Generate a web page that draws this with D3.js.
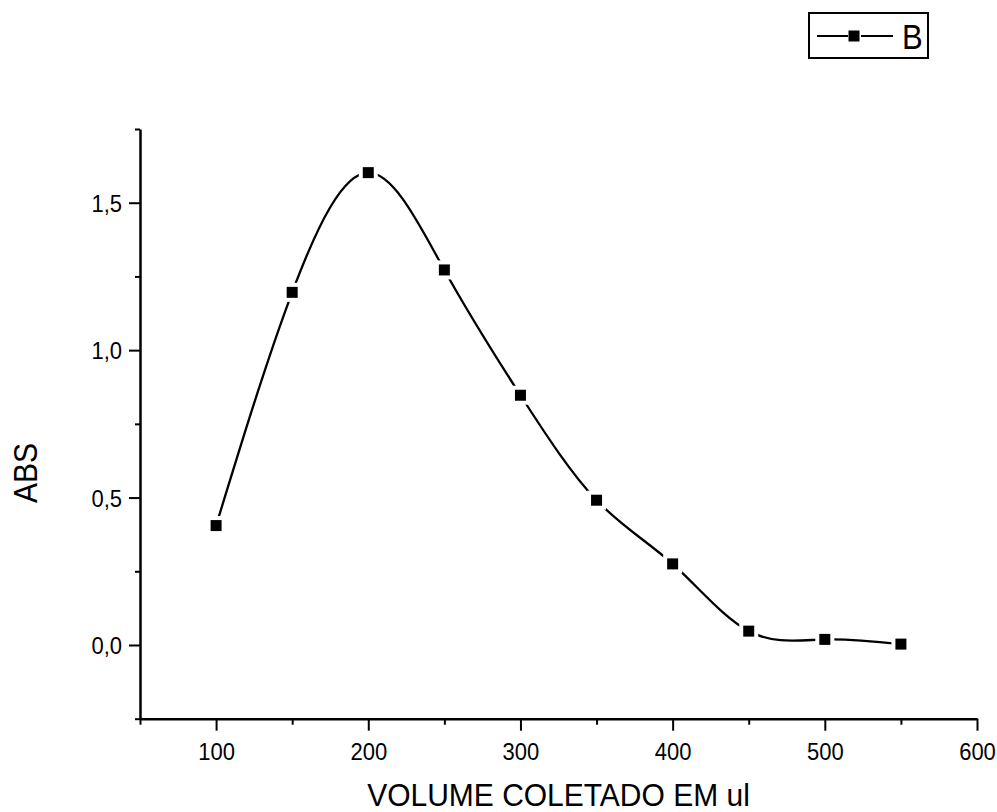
<!DOCTYPE html>
<html>
<head>
<meta charset="utf-8">
<script src="https://cdn.jsdelivr.net/npm/d3@7"></script>
<style>
  html, body { margin: 0; padding: 0; background: #fff; }
  svg { display: block; }
  text { font-family: "Liberation Sans", Arial, sans-serif; fill: #000; }
</style>
</head>
<body>
<svg id="chart" width="997" height="812"></svg>
<script>
// ---- data ----
const volumes = [100, 150, 200, 250, 300, 350, 400, 450, 500, 550];
const absValues = [0.405, 1.196, 1.602, 1.272, 0.847, 0.491, 0.275, 0.047, 0.019, 0.003];
const xMajorTicks = [100, 200, 300, 400, 500, 600];
const xMinorTicks = [50, 150, 250, 350, 450, 550];
const yMajorTicks = [0.0, 0.5, 1.0, 1.5];
const yMinorTicks = [-0.25, 0.25, 0.75, 1.25, 1.75];
const seriesName = "B";
const xTitle = "VOLUME COLETADO EM ul";
const yTitle = "ABS";

const FONT = '"Liberation Sans", Arial, sans-serif';
const svg = d3.select("#chart");
const x = d3.scaleLinear().domain([50, 600]).range([140, 977]);
const y = d3.scaleLinear().domain([-0.25, 1.75]).range([718.7, 129]);
const fmt = d => d3.format(".1f")(d).replace(".", ",");

// minor ticks
svg.append("g").attr("transform", `translate(0,${y(-0.25)})`)
  .call(d3.axisBottom(x).tickValues(xMinorTicks).tickSize(6).tickFormat(""))
  .call(g => g.select(".domain").remove())
  .call(g => g.selectAll("line").attr("stroke-width", 2));
svg.append("g").attr("transform", `translate(${x(50)},0)`)
  .call(d3.axisLeft(y).tickValues(yMinorTicks).tickSize(5).tickFormat(""))
  .call(g => g.select(".domain").remove())
  .call(g => g.selectAll("line").attr("stroke-width", 2));

// major x axis
const gx = svg.append("g").attr("transform", `translate(0,${y(-0.25)})`)
  .call(d3.axisBottom(x).tickValues(xMajorTicks).tickSize(12).tickSizeOuter(0).tickFormat(d3.format("d")));
gx.attr("font-size", null).attr("font-family", null);
gx.select(".domain").attr("stroke-width", 2.5);
gx.selectAll("line").attr("stroke-width", 2);
gx.selectAll("text").attr("y", 0).attr("dy", null)
  .attr("transform", "translate(0,41.5) scale(1,1.1)")
  .style("font-size", "22px").style("font-family", FONT);

// major y axis
const gy = svg.append("g").attr("transform", `translate(${x(50)},0)`)
  .call(d3.axisLeft(y).tickValues(yMajorTicks).tickSize(11).tickSizeOuter(0).tickFormat(fmt));
gy.attr("font-size", null).attr("font-family", null);
gy.select(".domain").attr("stroke-width", 2.5);
gy.selectAll("line").attr("stroke-width", 2);
gy.selectAll("text").attr("x", 0).attr("dy", null)
  .attr("transform", "translate(-18,8.6) scale(1,1.1)")
  .style("font-size", "22px").style("font-family", FONT);

// curve
const pts = volumes.map((v, i) => [v, absValues[i]]);
const line = d3.line().x(d => x(d[0])).y(d => y(d[1])).curve(d3.curveNatural);
svg.append("path").attr("d", line(pts)).attr("fill", "none").attr("stroke", "#000").attr("stroke-width", 2.3);

// marker halos and markers
const ms = 11, halo = 19;
svg.append("g").selectAll("rect").data(pts).join("rect")
  .attr("x", d => x(d[0]) - halo / 2).attr("y", d => y(d[1]) - halo / 2)
  .attr("width", halo).attr("height", halo).attr("fill", "#fff");
svg.append("g").selectAll("rect").data(pts).join("rect")
  .attr("x", d => x(d[0]) - ms / 2).attr("y", d => y(d[1]) - ms / 2)
  .attr("width", ms).attr("height", ms).attr("fill", "#000");

// axis titles
svg.append("text").attr("transform", `translate(${(x(50) + x(600)) / 2},806) scale(1,1.07)`)
  .attr("text-anchor", "middle").style("font-size", "30px").text(xTitle);
svg.append("text").attr("transform", "translate(37,473) rotate(-90) scale(1,1.1)")
  .attr("text-anchor", "middle").style("font-size", "30px").text(yTitle);

// legend
const lg = svg.append("g");
lg.append("rect").attr("x", 809).attr("y", 13).attr("width", 119).attr("height", 45)
  .attr("fill", "#fff").attr("stroke", "#000").attr("stroke-width", 2);
lg.append("line").attr("x1", 817).attr("x2", 848).attr("y1", 36).attr("y2", 36).attr("stroke", "#000").attr("stroke-width", 2);
lg.append("line").attr("x1", 861).attr("x2", 893).attr("y1", 36).attr("y2", 36).attr("stroke", "#000").attr("stroke-width", 2);
lg.append("rect").attr("x", 854 - ms / 2).attr("y", 36 - ms / 2).attr("width", ms).attr("height", ms).attr("fill", "#000");
lg.append("text").attr("transform", "translate(902,49) scale(1,1.12)").style("font-size", "31px").text(seriesName);
</script>
</body>
</html>
